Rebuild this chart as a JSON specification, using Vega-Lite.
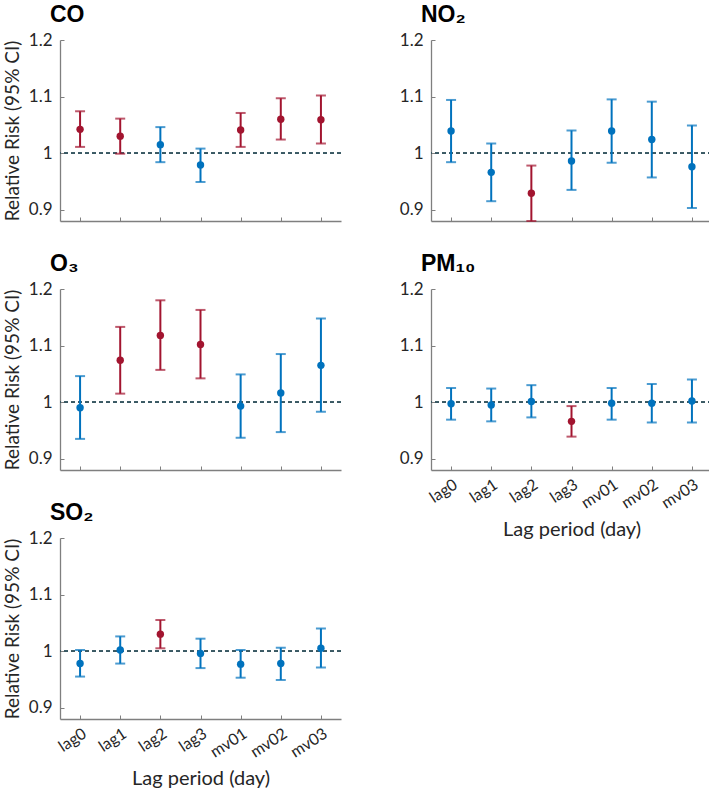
{
  "$schema": "https://vega.github.io/schema/vega-lite/v6.json",
  "padding": {"left": 3, "top": 4, "right": 0, "bottom": 0},
  "background": "white",
  "config": {
    "view": {"stroke": null},
    "font": "Lato",
    "axis": {
      "grid": false,
      "domainColor": "#7f7f7f",
      "domainWidth": 1.3,
      "tickColor": "#7f7f7f",
      "tickSize": -4,
      "tickWidth": 1,
      "labelColor": "#262626",
      "labelFont": "Lato",
      "labelFontSize": 17,
      "labelPadding": 12,
      "titleFont": "Lato",
      "titleFontSize": 19,
      "titleFontWeight": "normal",
      "titleColor": "#262626"
    },
    "title": {
      "font": "Liberation Sans",
      "fontSize": 23,
      "fontWeight": "bold",
      "anchor": "start",
      "frame": "group",
      "dx": -10,
      "offset": 0,
      "color": "black"
    }
  },
  "datasets": {
    "d": [
      {"p": "CO", "lag": "lag0", "rr": 1.042, "lo": 1.011, "hi": 1.074, "sig": "yes"},
      {"p": "CO", "lag": "lag1", "rr": 1.030, "lo": 0.999, "hi": 1.061, "sig": "yes"},
      {"p": "CO", "lag": "lag2", "rr": 1.015, "lo": 0.984, "hi": 1.046, "sig": "no"},
      {"p": "CO", "lag": "lag3", "rr": 0.979, "lo": 0.949, "hi": 1.008, "sig": "no"},
      {"p": "CO", "lag": "mv01", "rr": 1.041, "lo": 1.011, "hi": 1.071, "sig": "yes"},
      {"p": "CO", "lag": "mv02", "rr": 1.060, "lo": 1.024, "hi": 1.097, "sig": "yes"},
      {"p": "CO", "lag": "mv03", "rr": 1.059, "lo": 1.017, "hi": 1.102, "sig": "yes"},
      {"p": "NO2", "lag": "lag0", "rr": 1.039, "lo": 0.984, "hi": 1.094, "sig": "no"},
      {"p": "NO2", "lag": "lag1", "rr": 0.966, "lo": 0.915, "hi": 1.017, "sig": "no"},
      {"p": "NO2", "lag": "lag2", "rr": 0.929, "lo": 0.880, "hi": 0.978, "sig": "yes"},
      {"p": "NO2", "lag": "lag3", "rr": 0.986, "lo": 0.935, "hi": 1.040, "sig": "no"},
      {"p": "NO2", "lag": "mv01", "rr": 1.039, "lo": 0.983, "hi": 1.095, "sig": "no"},
      {"p": "NO2", "lag": "mv02", "rr": 1.024, "lo": 0.957, "hi": 1.091, "sig": "no"},
      {"p": "NO2", "lag": "mv03", "rr": 0.976, "lo": 0.903, "hi": 1.049, "sig": "no"},
      {"p": "O3", "lag": "lag0", "rr": 0.990, "lo": 0.935, "hi": 1.046, "sig": "no"},
      {"p": "O3", "lag": "lag1", "rr": 1.074, "lo": 1.015, "hi": 1.133, "sig": "yes"},
      {"p": "O3", "lag": "lag2", "rr": 1.118, "lo": 1.057, "hi": 1.180, "sig": "yes"},
      {"p": "O3", "lag": "lag3", "rr": 1.102, "lo": 1.042, "hi": 1.163, "sig": "yes"},
      {"p": "O3", "lag": "mv01", "rr": 0.993, "lo": 0.937, "hi": 1.049, "sig": "no"},
      {"p": "O3", "lag": "mv02", "rr": 1.016, "lo": 0.947, "hi": 1.085, "sig": "no"},
      {"p": "O3", "lag": "mv03", "rr": 1.065, "lo": 0.983, "hi": 1.148, "sig": "no"},
      {"p": "PM10", "lag": "lag0", "rr": 0.997, "lo": 0.969, "hi": 1.025, "sig": "no"},
      {"p": "PM10", "lag": "lag1", "rr": 0.995, "lo": 0.966, "hi": 1.024, "sig": "no"},
      {"p": "PM10", "lag": "lag2", "rr": 1.001, "lo": 0.973, "hi": 1.030, "sig": "no"},
      {"p": "PM10", "lag": "lag3", "rr": 0.966, "lo": 0.939, "hi": 0.993, "sig": "yes"},
      {"p": "PM10", "lag": "mv01", "rr": 0.998, "lo": 0.969, "hi": 1.025, "sig": "no"},
      {"p": "PM10", "lag": "mv02", "rr": 0.998, "lo": 0.964, "hi": 1.032, "sig": "no"},
      {"p": "PM10", "lag": "mv03", "rr": 1.002, "lo": 0.964, "hi": 1.040, "sig": "no"},
      {"p": "SO2", "lag": "lag0", "rr": 0.978, "lo": 0.955, "hi": 1.002, "sig": "no"},
      {"p": "SO2", "lag": "lag1", "rr": 1.002, "lo": 0.978, "hi": 1.026, "sig": "no"},
      {"p": "SO2", "lag": "lag2", "rr": 1.030, "lo": 1.005, "hi": 1.055, "sig": "yes"},
      {"p": "SO2", "lag": "lag3", "rr": 0.996, "lo": 0.970, "hi": 1.022, "sig": "no"},
      {"p": "SO2", "lag": "mv01", "rr": 0.977, "lo": 0.953, "hi": 1.002, "sig": "no"},
      {"p": "SO2", "lag": "mv02", "rr": 0.978, "lo": 0.949, "hi": 1.006, "sig": "no"},
      {"p": "SO2", "lag": "mv03", "rr": 1.005, "lo": 0.971, "hi": 1.040, "sig": "no"}
    ]
  },
  "hconcat": [
    {
      "spacing": 31,
      "vconcat": [
        {
          "title": "CO", "width": 281, "height": 181,
          "data": {"name": "d"}, "transform": [{"filter": "datum.p == 'CO'"}],
          "layer": [
            {"mark": {"type": "rule", "strokeDash": [4, 3], "strokeWidth": 1, "color": "#3a5863"}, "encoding": {"y": {"datum": 1, "type": "quantitative", "scale": {"domain": [0.88, 1.2], "nice": false, "zero": false}, "axis": {"values": [0.9, 1, 1.1, 1.2], "labelExpr": "datum.value == 1 ? '1' : format(datum.value, '.1f')", "title": "Relative Risk (95% CI)", "titlePadding": 6}}}},
            {"mark": {"type": "rule", "strokeWidth": 2}, "encoding": {"x": {"field": "lag", "type": "nominal", "scale": {"type": "point", "padding": 0.5}, "axis": {"labels": false, "title": null}}, "y": {"field": "lo", "type": "quantitative"}, "y2": {"field": "hi"}, "color": {"field": "sig", "type": "nominal", "scale": {"domain": ["no", "yes"], "range": ["#0072BD", "#A2142F"]}, "legend": null}}},
            {"mark": {"type": "tick", "orient": "horizontal", "size": 10, "thickness": 2}, "encoding": {"x": {"field": "lag", "type": "nominal"}, "y": {"field": "hi", "type": "quantitative"}, "color": {"field": "sig", "type": "nominal"}}},
            {"mark": {"type": "tick", "orient": "horizontal", "size": 10, "thickness": 2}, "encoding": {"x": {"field": "lag", "type": "nominal"}, "y": {"field": "lo", "type": "quantitative"}, "color": {"field": "sig", "type": "nominal"}}},
            {"mark": {"type": "point", "filled": true, "opacity": 1, "size": 55}, "encoding": {"x": {"field": "lag", "type": "nominal"}, "y": {"field": "rr", "type": "quantitative"}, "color": {"field": "sig", "type": "nominal"}}}
          ]
        },
        {
          "title": "O₃", "width": 281, "height": 181,
          "data": {"name": "d"}, "transform": [{"filter": "datum.p == 'O3'"}],
          "layer": [
            {"mark": {"type": "rule", "strokeDash": [4, 3], "strokeWidth": 1, "color": "#3a5863"}, "encoding": {"y": {"datum": 1, "type": "quantitative", "scale": {"domain": [0.88, 1.2], "nice": false, "zero": false}, "axis": {"values": [0.9, 1, 1.1, 1.2], "labelExpr": "datum.value == 1 ? '1' : format(datum.value, '.1f')", "title": "Relative Risk (95% CI)", "titlePadding": 6}}}},
            {"mark": {"type": "rule", "strokeWidth": 2}, "encoding": {"x": {"field": "lag", "type": "nominal", "scale": {"type": "point", "padding": 0.5}, "axis": {"labels": false, "title": null}}, "y": {"field": "lo", "type": "quantitative"}, "y2": {"field": "hi"}, "color": {"field": "sig", "type": "nominal", "scale": {"domain": ["no", "yes"], "range": ["#0072BD", "#A2142F"]}, "legend": null}}},
            {"mark": {"type": "tick", "orient": "horizontal", "size": 10, "thickness": 2}, "encoding": {"x": {"field": "lag", "type": "nominal"}, "y": {"field": "hi", "type": "quantitative"}, "color": {"field": "sig", "type": "nominal"}}},
            {"mark": {"type": "tick", "orient": "horizontal", "size": 10, "thickness": 2}, "encoding": {"x": {"field": "lag", "type": "nominal"}, "y": {"field": "lo", "type": "quantitative"}, "color": {"field": "sig", "type": "nominal"}}},
            {"mark": {"type": "point", "filled": true, "opacity": 1, "size": 55}, "encoding": {"x": {"field": "lag", "type": "nominal"}, "y": {"field": "rr", "type": "quantitative"}, "color": {"field": "sig", "type": "nominal"}}}
          ]
        },
        {
          "title": "SO₂", "width": 281, "height": 181,
          "data": {"name": "d"}, "transform": [{"filter": "datum.p == 'SO2'"}],
          "layer": [
            {"mark": {"type": "rule", "strokeDash": [4, 3], "strokeWidth": 1, "color": "#3a5863"}, "encoding": {"y": {"datum": 1, "type": "quantitative", "scale": {"domain": [0.88, 1.2], "nice": false, "zero": false}, "axis": {"values": [0.9, 1, 1.1, 1.2], "labelExpr": "datum.value == 1 ? '1' : format(datum.value, '.1f')", "title": "Relative Risk (95% CI)", "titlePadding": 6}}}},
            {"mark": {"type": "rule", "strokeWidth": 2}, "encoding": {"x": {"field": "lag", "type": "nominal", "scale": {"type": "point", "padding": 0.5}, "axis": {"labelAngle": -33, "labelFontSize": 16, "labelPadding": 10, "title": "Lag period (day)", "titlePadding": 8, "titleFontSize": 20}}, "y": {"field": "lo", "type": "quantitative"}, "y2": {"field": "hi"}, "color": {"field": "sig", "type": "nominal", "scale": {"domain": ["no", "yes"], "range": ["#0072BD", "#A2142F"]}, "legend": null}}},
            {"mark": {"type": "tick", "orient": "horizontal", "size": 10, "thickness": 2}, "encoding": {"x": {"field": "lag", "type": "nominal"}, "y": {"field": "hi", "type": "quantitative"}, "color": {"field": "sig", "type": "nominal"}}},
            {"mark": {"type": "tick", "orient": "horizontal", "size": 10, "thickness": 2}, "encoding": {"x": {"field": "lag", "type": "nominal"}, "y": {"field": "lo", "type": "quantitative"}, "color": {"field": "sig", "type": "nominal"}}},
            {"mark": {"type": "point", "filled": true, "opacity": 1, "size": 55}, "encoding": {"x": {"field": "lag", "type": "nominal"}, "y": {"field": "rr", "type": "quantitative"}, "color": {"field": "sig", "type": "nominal"}}}
          ]
        }
      ]
    },
    {
      "spacing": 31,
      "vconcat": [
        {
          "title": "NO₂", "width": 281, "height": 181,
          "data": {"name": "d"}, "transform": [{"filter": "datum.p == 'NO2'"}],
          "layer": [
            {"mark": {"type": "rule", "strokeDash": [4, 3], "strokeWidth": 1, "color": "#3a5863"}, "encoding": {"y": {"datum": 1, "type": "quantitative", "scale": {"domain": [0.88, 1.2], "nice": false, "zero": false}, "axis": {"values": [0.9, 1, 1.1, 1.2], "labelExpr": "datum.value == 1 ? '1' : format(datum.value, '.1f')", "title": null}}}},
            {"mark": {"type": "rule", "strokeWidth": 2}, "encoding": {"x": {"field": "lag", "type": "nominal", "scale": {"type": "point", "padding": 0.5}, "axis": {"labels": false, "title": null}}, "y": {"field": "lo", "type": "quantitative"}, "y2": {"field": "hi"}, "color": {"field": "sig", "type": "nominal", "scale": {"domain": ["no", "yes"], "range": ["#0072BD", "#A2142F"]}, "legend": null}}},
            {"mark": {"type": "tick", "orient": "horizontal", "size": 10, "thickness": 2}, "encoding": {"x": {"field": "lag", "type": "nominal"}, "y": {"field": "hi", "type": "quantitative"}, "color": {"field": "sig", "type": "nominal"}}},
            {"mark": {"type": "tick", "orient": "horizontal", "size": 10, "thickness": 2}, "encoding": {"x": {"field": "lag", "type": "nominal"}, "y": {"field": "lo", "type": "quantitative"}, "color": {"field": "sig", "type": "nominal"}}},
            {"mark": {"type": "point", "filled": true, "opacity": 1, "size": 55}, "encoding": {"x": {"field": "lag", "type": "nominal"}, "y": {"field": "rr", "type": "quantitative"}, "color": {"field": "sig", "type": "nominal"}}}
          ]
        },
        {
          "title": "PM₁₀", "width": 281, "height": 181,
          "data": {"name": "d"}, "transform": [{"filter": "datum.p == 'PM10'"}],
          "layer": [
            {"mark": {"type": "rule", "strokeDash": [4, 3], "strokeWidth": 1, "color": "#3a5863"}, "encoding": {"y": {"datum": 1, "type": "quantitative", "scale": {"domain": [0.88, 1.2], "nice": false, "zero": false}, "axis": {"values": [0.9, 1, 1.1, 1.2], "labelExpr": "datum.value == 1 ? '1' : format(datum.value, '.1f')", "title": null}}}},
            {"mark": {"type": "rule", "strokeWidth": 2}, "encoding": {"x": {"field": "lag", "type": "nominal", "scale": {"type": "point", "padding": 0.5}, "axis": {"labelAngle": -33, "labelFontSize": 16, "labelPadding": 10, "title": "Lag period (day)", "titlePadding": 8, "titleFontSize": 20}}, "y": {"field": "lo", "type": "quantitative"}, "y2": {"field": "hi"}, "color": {"field": "sig", "type": "nominal", "scale": {"domain": ["no", "yes"], "range": ["#0072BD", "#A2142F"]}, "legend": null}}},
            {"mark": {"type": "tick", "orient": "horizontal", "size": 10, "thickness": 2}, "encoding": {"x": {"field": "lag", "type": "nominal"}, "y": {"field": "hi", "type": "quantitative"}, "color": {"field": "sig", "type": "nominal"}}},
            {"mark": {"type": "tick", "orient": "horizontal", "size": 10, "thickness": 2}, "encoding": {"x": {"field": "lag", "type": "nominal"}, "y": {"field": "lo", "type": "quantitative"}, "color": {"field": "sig", "type": "nominal"}}},
            {"mark": {"type": "point", "filled": true, "opacity": 1, "size": 55}, "encoding": {"x": {"field": "lag", "type": "nominal"}, "y": {"field": "rr", "type": "quantitative"}, "color": {"field": "sig", "type": "nominal"}}}
          ]
        }
      ]
    }
  ],
  "spacing": 57
}
